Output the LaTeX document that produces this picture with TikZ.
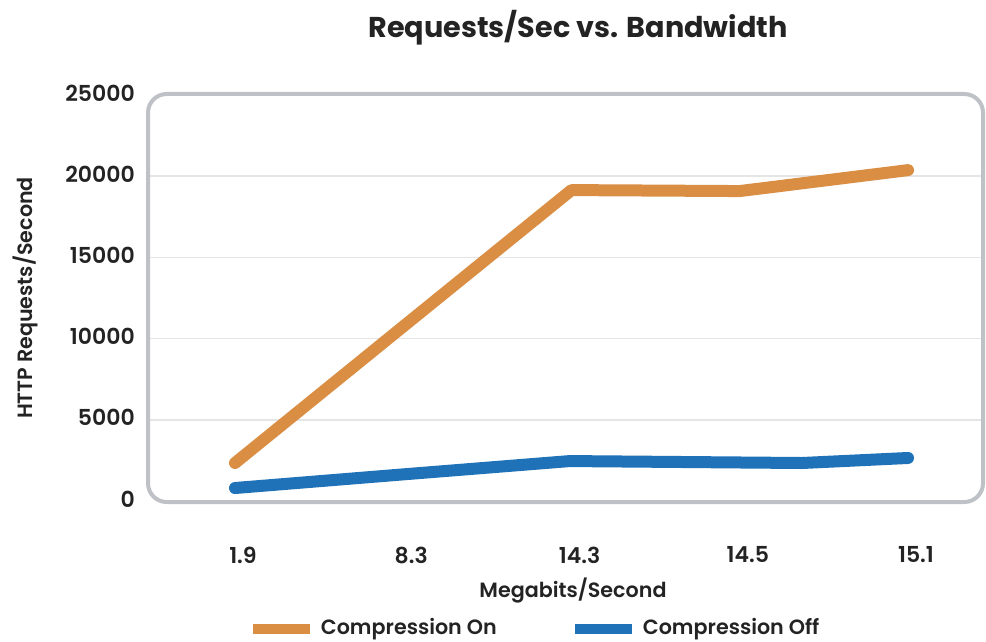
\documentclass[tikz,border=0pt]{standalone}
\usepackage{fontspec}
\setmainfont{Poppins}[UprightFont=* SemiBold, BoldFont=* Bold]
\usetikzlibrary{positioning}
\definecolor{compon}{RGB}{217,142,68}
\definecolor{compoff}{RGB}{31,114,184}
\definecolor{framegray}{RGB}{190,194,199}
\definecolor{gridgray}{RGB}{229,229,229}
\definecolor{inkgray}{RGB}{35,35,35}

\begin{document}
\begin{tikzpicture}[
    x=0.75pt, y=-0.75pt,
    every node/.style={text=inkgray, inner sep=0pt},
    ticklabel/.style={font=\fontsize{16.5}{16.5}\selectfont},
    axistitle/.style={font=\fontsize{15.5}{15.5}\selectfont},
    series/.style={
      draw=#1,
      line width=9pt,
      line cap=round,
      line join=round
    },
    legendline/.style={draw=#1, line width=7pt},
    gridline/.style={draw=gridgray, line width=1.2pt},
    node distance=8pt
  ]
  \useasboundingbox (0,0) rectangle (986,642);

  \node[font=\bfseries\fontsize{21.5}{21.5}\selectfont] (title) at (578,28)
    {Requests/Sec vs. Bandwidth};

  % grid, frame, ticks
  \foreach \k in {1,...,4}
    \draw[gridline] (150,{501-\k*81.2}) -- (982,{501-\k*81.2});
  \draw[draw=framegray, line width=3pt, rounded corners=14pt]
    (148,94) rectangle (983,502);
  \foreach \k/\v in {0/0,1/5000,2/10000,3/15000,4/20000,5/25000}
    \node[ticklabel, anchor=east] (ytick\k) at (135,{499-\k*81.2}) {\v};
  \foreach \i/\m in {0/1.9,1/8.3,2/14.3,3/14.5,4/15.1}
    \node[ticklabel] (xtick\i) at ({243+168.25*\i},555) {\m};

  \node[axistitle, rotate=90] (ytitle) at (25,298) {HTTP Requests/Second};
  \node[axistitle] (xtitle) at (573,591) {Megabits/Second};

  % data
  \begin{scope}[shift={(235,501)}, x=126.19pt, y=0.01218pt]
    \draw[series=compon] plot coordinates
      {(0,2340) (1,10750) (2,19150) (3,19090) (4,20380)};
    \draw[series=compoff] plot coordinates
      {(0,800) (1,1640) (1.99,2460) (3.37,2340) (4,2650)};
  \end{scope}

  % legend
  \coordinate (onA) at (253,629);
  \coordinate (onB) at (310,629);
  \coordinate (offA) at (575,629);
  \coordinate (offB) at (632,629);
  \draw[legendline=compon] (onA) -- (onB);
  \draw[legendline=compoff] (offA) -- (offB);
  \node[axistitle, right=of onB] (onlabel) {Compression On};
  \node[axistitle, right=of offB] (offlabel) {Compression Off};
\end{tikzpicture}
\end{document}
